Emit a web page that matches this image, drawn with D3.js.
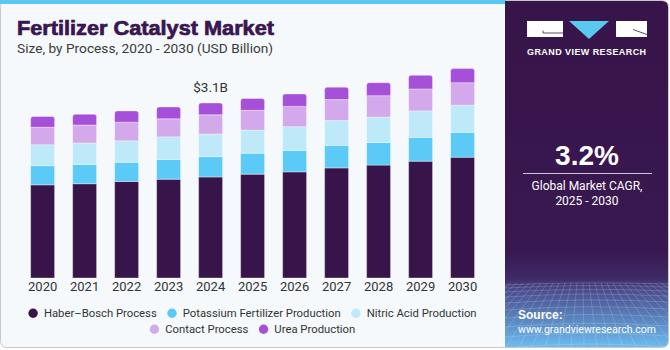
<!DOCTYPE html>
<html>
<head>
<meta charset="utf-8">
<script src="https://cdn.jsdelivr.net/npm/d3@7"></script>
<style>
  body { margin: 0; background: #ffffff; }
  svg { display: block; }
</style>
</head>
<body>
<svg id="chart"></svg>
<script>
// data (USD billion)
var years = ["2020", "2021", "2022", "2023", "2024", "2025", "2026", "2027", "2028", "2029", "2030"];
var haberBosch = [1.65, 1.67, 1.71, 1.75, 1.79, 1.84, 1.88, 1.95, 2.00, 2.07, 2.14];
var potassium = [0.34, 0.34, 0.34, 0.35, 0.36, 0.37, 0.38, 0.40, 0.40, 0.42, 0.44];
var nitricAcid = [0.37, 0.38, 0.38, 0.40, 0.40, 0.41, 0.42, 0.44, 0.45, 0.47, 0.48];
var contactProcess = [0.31, 0.32, 0.33, 0.32, 0.34, 0.35, 0.36, 0.37, 0.38, 0.39, 0.40];
var ureaProduction = [0.19, 0.19, 0.20, 0.21, 0.21, 0.21, 0.22, 0.22, 0.23, 0.24, 0.25];
var seriesNames = ["Haber–Bosch Process", "Potassium Fertilizer Production", "Nitric Acid Production", "Contact Process", "Urea Production"];
var seriesColors = ["#371449", "#5bcaf6", "#bde9f9", "#d4a9ec", "#a64fd8"];
var annotYear = "2024", annotText = "$3.1B";
var cagrText = "3.2%", cagrLabel = ["Global Market CAGR,", "2025 - 2030"];

var W = 670, H = 350;
var keys = ["haber", "potassium", "nitric", "contact", "urea"];
var bodyFont = "Roboto, 'Liberation Sans', sans-serif";

var svg = d3.select("#chart").attr("width", W).attr("height", H);

// card background
svg.append("rect")
  .attr("x", 0.5).attr("y", 0.5).attr("width", W - 2).attr("height", 347)
  .attr("rx", 6).attr("fill", "#f5f9fc").attr("stroke", "#c8c8c8");
svg.append("rect")
  .attr("x", 0).attr("y", 0).attr("width", 506).attr("height", 4)
  .attr("fill", "#5bc8f0");

// right panel
var defs = svg.append("defs");
var grad = defs.append("linearGradient").attr("id", "panelGrad")
  .attr("x1", 0).attr("y1", 0).attr("x2", 0).attr("y2", 1);
grad.append("stop").attr("offset", "0%").attr("stop-color", "#371449");
grad.append("stop").attr("offset", "72%").attr("stop-color", "#391851");
grad.append("stop").attr("offset", "80%").attr("stop-color", "#3e2a66");
grad.append("stop").attr("offset", "84%").attr("stop-color", "#4a4f8f");
grad.append("stop").attr("offset", "100%").attr("stop-color", "#6cbcef");

var px0 = 505, px1 = 668, py0 = 1, py1 = 347, r = 6;
var panelPath = "M" + px0 + "," + py0 + "H" + (px1 - r) + "Q" + px1 + "," + py0 + " " + px1 + "," + (py0 + r) +
  "V" + (py1 - r) + "Q" + px1 + "," + py1 + " " + (px1 - r) + "," + py1 + "H" + px0 + "Z";
defs.append("clipPath").attr("id", "panelClip").append("path").attr("d", panelPath);
svg.append("path").attr("d", panelPath).attr("fill", "url(#panelGrad)");

// faint perspective grid at the bottom of the panel
var gridG = svg.append("g").attr("clip-path", "url(#panelClip)")
  .attr("stroke", "#d8e8ff").attr("stroke-opacity", 0.3).attr("stroke-width", 0.7).attr("fill", "none");
var gTop = 283;
[0, 3, 7, 12, 18, 25, 33, 42, 52, 63].forEach(function (d, i) {
  var yy = gTop + d;
  gridG.append("path").attr("d", "M" + px0 + "," + (yy + 2) + "Q" + 586 + "," + (yy - 2 - i * 0.4) + " " + px1 + "," + (yy + 1));
});
d3.range(-14, 30).forEach(function (k) {
  var xt = px0 + k * 6, xb = px0 + k * 13 - 90;
  gridG.append("line").attr("x1", xt).attr("y1", gTop).attr("x2", xb).attr("y2", py1);
});

// logo
var logo = svg.append("g");
logo.append("rect").attr("x", 527).attr("y", 21).attr("width", 36).attr("height", 16).attr("fill", "#ffffff");
logo.append("path").attr("d", "M543,30.5V33H563").attr("stroke", "#5a4a6a").attr("stroke-width", 1).attr("fill", "none");
logo.append("path").attr("d", "M569,21H609L589,39Z").attr("fill", "#5bc8f0");
logo.append("rect").attr("x", 616).attr("y", 21).attr("width", 31).attr("height", 16).attr("fill", "#ffffff");
logo.append("path").attr("d", "M633,29.5L647,34.5").attr("stroke", "#5a4a6a").attr("stroke-width", 1).attr("fill", "none");
logo.append("text").attr("x", 587).attr("y", 54.5).attr("text-anchor", "middle")
  .attr("font-family", "'Liberation Sans', Arial, sans-serif").attr("font-weight", "bold")
  .attr("font-size", 9).attr("letter-spacing", 0.9).attr("fill", "#ffffff")
  .attr("textLength", 120).attr("lengthAdjust", "spacing")
  .text("GRAND VIEW RESEARCH");

// CAGR block
svg.append("text").attr("x", 587).attr("y", 165).attr("text-anchor", "middle")
  .attr("font-family", "'Liberation Sans', Arial, sans-serif").attr("font-weight", "bold")
  .attr("font-size", 28).attr("fill", "#ffffff").text(cagrText);
svg.append("line").attr("x1", 523).attr("x2", 652).attr("y1", 173.5).attr("y2", 173.5)
  .attr("stroke", "#cfc6d8").attr("stroke-width", 1);
cagrLabel.forEach(function (t, i) {
  svg.append("text").attr("x", 587).attr("y", 190 + i * 15).attr("text-anchor", "middle")
    .attr("font-family", bodyFont).attr("font-size", 12)
    .attr("fill", "#ffffff").text(t);
});
svg.append("text").attr("x", 518).attr("y", 319)
  .attr("font-family", "'Liberation Sans', Arial, sans-serif").attr("font-weight", "bold")
  .attr("font-size", 12).attr("fill", "#ffffff").text("Source:");
svg.append("text").attr("x", 518).attr("y", 333)
  .attr("font-family", bodyFont)
  .attr("font-size", 11.5).attr("fill", "#ffffff")
  .attr("textLength", 138).attr("lengthAdjust", "spacingAndGlyphs")
  .text("www.grandviewresearch.com");

// titles
svg.append("text").attr("x", 17).attr("y", 35)
  .attr("font-family", "'Liberation Sans', Arial, sans-serif").attr("font-weight", "bold")
  .attr("font-size", 20).attr("fill", "#3a1650").attr("stroke", "#3a1650").attr("stroke-width", 0.7)
  .attr("textLength", 257).attr("lengthAdjust", "spacingAndGlyphs")
  .text("Fertilizer Catalyst Market");
svg.append("text").attr("x", 17).attr("y", 53)
  .attr("font-family", bodyFont)
  .attr("font-size", 13.7).attr("fill", "#3a3a3a")
  .text("Size, by Process, 2020 - 2030 (USD Billion)");

// stacked bars
var table = years.map(function (yr, i) {
  return {
    year: yr, haber: haberBosch[i], potassium: potassium[i], nitric: nitricAcid[i],
    contact: contactProcess[i], urea: ureaProduction[i]
  };
});
var stacked = d3.stack().keys(keys)(table);

var x = d3.scaleBand().domain(years).range([12.6, 492.6]).paddingInner(0.43).paddingOuter(0.43);
var y = d3.scaleLinear().domain([0, 3.1]).range([278, 103]);

var barG = svg.append("g");
stacked.forEach(function (layer, li) {
  var isTop = li === stacked.length - 1;
  barG.selectAll(".s" + li)
    .data(layer)
    .enter().append("path")
      .attr("class", "s" + li)
      .attr("fill", seriesColors[li])
      .attr("stroke", "#ffffff").attr("stroke-opacity", 0.45).attr("stroke-width", 0.8)
      .attr("d", function (d) {
        var x0 = x(d.data.year), w = x.bandwidth(), yt = y(d[1]), yb = y(d[0]);
        if (!isTop) return "M" + x0 + "," + yb + "V" + yt + "H" + (x0 + w) + "V" + yb + "Z";
        var rr = 2.5;
        return "M" + x0 + "," + yb + "V" + (yt + rr) + "Q" + x0 + "," + yt + " " + (x0 + rr) + "," + yt +
          "H" + (x0 + w - rr) + "Q" + (x0 + w) + "," + yt + " " + (x0 + w) + "," + (yt + rr) + "V" + yb + "Z";
      });
});

// year axis
var xAxis = svg.append("g")
  .attr("transform", "translate(0," + y(0) + ")")
  .call(d3.axisBottom(x).tickSize(0).tickPadding(4));
xAxis.select(".domain").remove();
xAxis.selectAll("text")
  .attr("font-family", bodyFont)
  .attr("font-size", 13).attr("fill", "#333333");

// annotation
var annotIdx = years.indexOf(annotYear);
var annotTotal = stacked[stacked.length - 1][annotIdx][1];
svg.append("text")
  .attr("x", x(annotYear) + x.bandwidth() / 2)
  .attr("y", y(annotTotal) - 11)
  .attr("text-anchor", "middle")
  .attr("font-family", bodyFont)
  .attr("font-size", 13.5).attr("fill", "#333333")
  .text(annotText);

// legend, two centred rows
var legendRows = [[0, 1, 2], [3, 4]];
var legendCx = 252.5;
legendRows.forEach(function (row, ri) {
  var g = svg.append("g");
  var cur = 0;
  row.forEach(function (si) {
    var item = g.append("g").attr("transform", "translate(" + cur + ",0)");
    item.append("circle").attr("cx", 4.7).attr("cy", 0).attr("r", 4.7).attr("fill", seriesColors[si]);
    var t = item.append("text").attr("x", 15.5).attr("y", 4)
      .attr("font-family", bodyFont)
      .attr("font-size", 11.3).attr("fill", "#333333")
      .text(seriesNames[si]);
    cur += 15.5 + t.node().getComputedTextLength() + 10.5;
  });
  var total = cur - 10.5;
  g.attr("transform", "translate(" + (legendCx - total / 2) + "," + (313.3 + ri * 16) + ")");
});
</script>
</body>
</html>
